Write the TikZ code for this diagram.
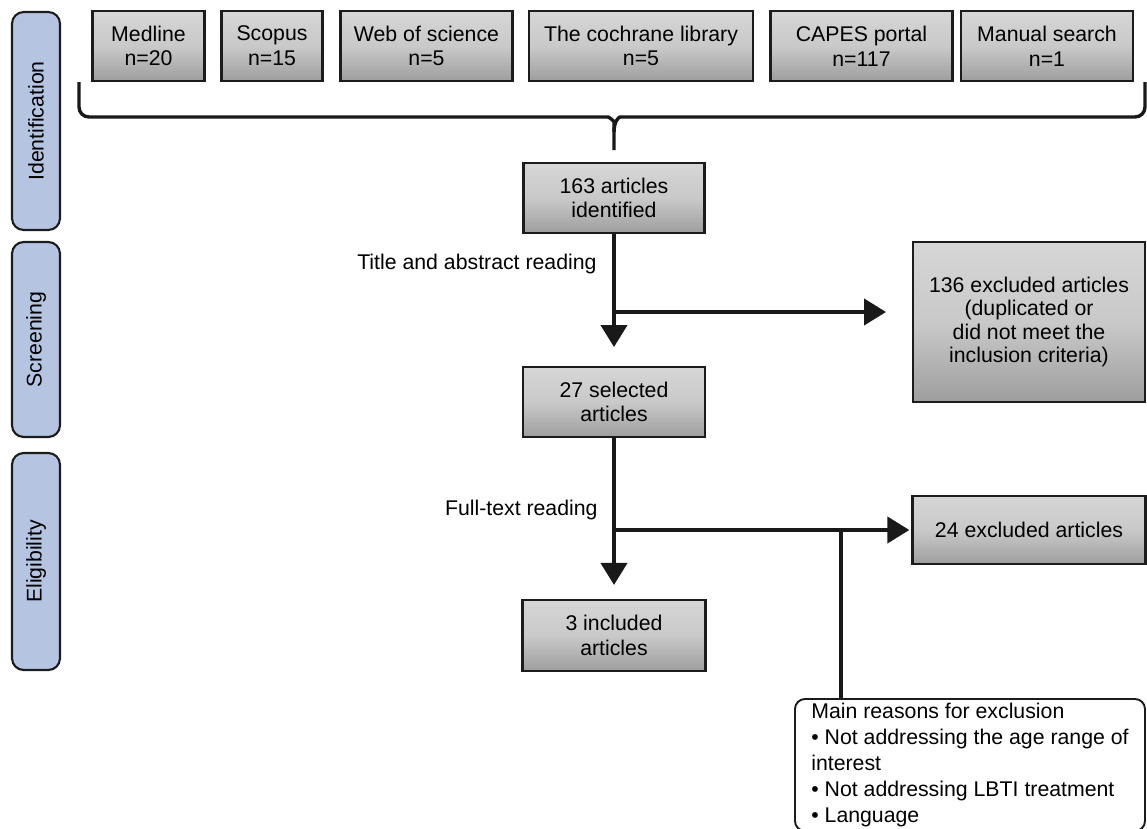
\documentclass[tikz,border=0pt]{standalone}
\usepackage{fontspec}
\setmainfont{Liberation Sans}
\usepackage{tikz}
\usetikzlibrary{arrows.meta,positioning,calc}
\definecolor{boxtop}{RGB}{214,214,214}
\definecolor{boxmid}{RGB}{201,201,201}
\definecolor{boxbottom}{RGB}{158,158,158}
\definecolor{phaseblue}{RGB}{181,196,225}
\definecolor{edgegray}{RGB}{28,28,28}
\newlength{\px}
\setlength{\px}{0.47pt}
\tikzset{
    every node/.style={font=\fontsize{10}{11.6}\selectfont},
    greybox/.style={rectangle, draw=edgegray, line width=1pt, top color=boxtop, bottom color=boxbottom, middle color=boxmid, align=center, inner sep=0pt},
    phasebox/.style={rectangle, draw=edgegray, line width=1pt, rounded corners=5.5pt, fill=phaseblue, rotate=90, minimum height=48\px, inner sep=0pt},
    flowline/.style={line width=1.6pt, draw=black!90},
    flowarrow/.style={flowline, -{Triangle[length=10.3pt,width=12.3pt]}},
}

\begin{document}
\begin{tikzpicture}[x=0.47pt, y=-0.47pt]
    \useasboundingbox (0,0) rectangle (1147,828);

    \node[phasebox, minimum width=218\px] (ident) at (36,121) {Identification};
    \node[phasebox, minimum width=195\px] (screen) at (36,339.5) {Screening};
    \node[phasebox, minimum width=217\px] (elig) at (36,561.5) {Eligibility};

    \node[greybox, minimum width=112\px, minimum height=70\px] (medline) at (148.5,46) {Medline\\n=20};
    \node[greybox, minimum width=101\px, minimum height=70\px] (scopus) at (272,46) {Scopus\\n=15};
    \node[greybox, minimum width=172\px, minimum height=70\px] (wos) at (426.5,46) {Web of science\\n=5};
    \node[greybox, minimum width=224\px, minimum height=70\px] (cochrane) at (641,46) {The cochrane library\\n=5};
    \node[greybox, minimum width=182\px, minimum height=70\px] (capes) at (861.5,46) {CAPES portal\\n=117};
    \node[greybox, minimum width=172\px, minimum height=70\px] (manual) at (1047,46) {Manual search\\n=1};

    \node[greybox, minimum width=181\px, minimum height=70\px] (found) at (614,198) {163 articles\\identified};
    \node[greybox, minimum width=182\px, minimum height=70\px] (selected) at (614,402) {27 selected\\articles};
    \node[greybox, minimum width=183\px, minimum height=71\px] (included) at (614,635.5) {3 included\\articles};
    \node[greybox, minimum width=232\px, minimum height=160\px, font=\fontsize{10}{11}\selectfont] (exclA) at (1029,322) {136 excluded articles\\(duplicated or\\did not meet the\\inclusion criteria)};
    \node[greybox, minimum width=233\px, minimum height=68\px] (exclB) at (1029,530) {24 excluded articles};

    \node[rectangle, draw=edgegray, line width=0.9pt, rounded corners=4.7pt, fill=white, align=left, inner sep=0pt, minimum width=350\px, minimum height=132\px, font=\fontsize{10}{12.2}\selectfont] (reasons) at (970,765) {Main reasons for exclusion\\• Not addressing the age range of\\interest\\• Not addressing LBTI treatment\\• Language};

    \node[anchor=east, inner sep=0pt] (lbltitle) at (597,264) {Title and abstract reading};
    \node[anchor=east, inner sep=0pt] (lblfull) at (598,510) {Full-text reading};

    % brace joining the sources
    \coordinate (braceL) at (79,82);
    \coordinate (braceR) at (1145,82);
    \coordinate (bracetip) at (614,150);
    \draw[flowline, rounded corners=4.7pt] (braceL) -- (79,117) -- (598,117) .. controls (609,117) and (614,121) .. (614,132) -- (bracetip);
    \draw[flowline, rounded corners=4.7pt] (braceR) -- (1145,117) -- (630,117) .. controls (619,117) and (614,121) .. (614,132);

    \coordinate (scrfork) at (614,312);
    \coordinate (eligfork) at (614,530);
    \coordinate (rsnfork) at (841,530);
    \draw[flowarrow, shorten >=8.9pt] (found.south) -- (selected.north);
    \draw[flowarrow, shorten >=12.2pt] (scrfork) -- (scrfork -| exclA.west);
    \draw[flowarrow, shorten >=6.6pt] (selected.south) -- (included.north);
    \draw[flowarrow, shorten >=1pt] (eligfork) -- (eligfork -| exclB.west);
    \draw[flowline] (rsnfork) -- (rsnfork |- reasons.north);
\end{tikzpicture}
\end{document}
